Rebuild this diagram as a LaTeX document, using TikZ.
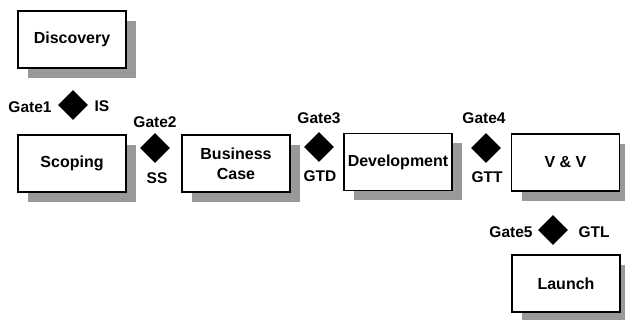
\documentclass[tikz,border=0pt]{standalone}
\usepackage{fontspec}
\setmainfont{Liberation Sans}
\usetikzlibrary{shapes.geometric,shadows}
\definecolor{shadowgray}{RGB}{153,153,153}
\tikzset{
  stage/.style={draw=black, line width=1.8pt, fill=white, minimum width=108pt, minimum height=57pt,
    inner sep=0pt, align=center, font=\fontsize{16}{20}\selectfont\bfseries,
    drop shadow={shadow xshift=10pt, shadow yshift=-10pt, fill=shadowgray, opacity=1}},
  gate/.style={diamond, fill=black, minimum width=30pt, minimum height=30pt, inner sep=0pt},
  glabel/.style={inner sep=0pt, font=\fontsize{15.5}{18}\selectfont\bfseries}
}
\begin{document}
\begin{tikzpicture}[x=1pt,y=-1pt]
\useasboundingbox[fill=white] (0,0) rectangle (625,320);
% stages
\node[stage] (disc) at (72,39.5) {Discovery};
\node[stage] (scop) at (72,163.5) {Scoping};
\node[stage] (bus) at (236,163.5) {Business\\Case};
\node[stage] (dev) at (398,162) {Development};
\node[stage] (vv) at (565.5,162.5) {V \& V};
\node[stage] (lau) at (566,283.5) {Launch};
% gates
\node[gate] (g1) at (73,105) {};
\node[glabel] (g1t) at (30,107) {Gate1};
\node[glabel] (g1b) at (102,106) {IS};
\node[gate] (g2) at (155,148) {};
\node[glabel] (g2t) at (155,122) {Gate2};
\node[glabel] (g2b) at (157,178) {SS};
\node[gate] (g3) at (319,147) {};
\node[glabel] (g3t) at (319,118) {Gate3};
\node[glabel] (g3b) at (320,176) {GTD};
\node[gate] (g4) at (486,148) {};
\node[glabel] (g4t) at (484,118) {Gate4};
\node[glabel] (g4b) at (487,177) {GTT};
\node[gate] (g5) at (553,230) {};
\node[glabel] (g5t) at (511,232) {Gate5};
\node[glabel] (g5b) at (594,232) {GTL};
\end{tikzpicture}
\end{document}
